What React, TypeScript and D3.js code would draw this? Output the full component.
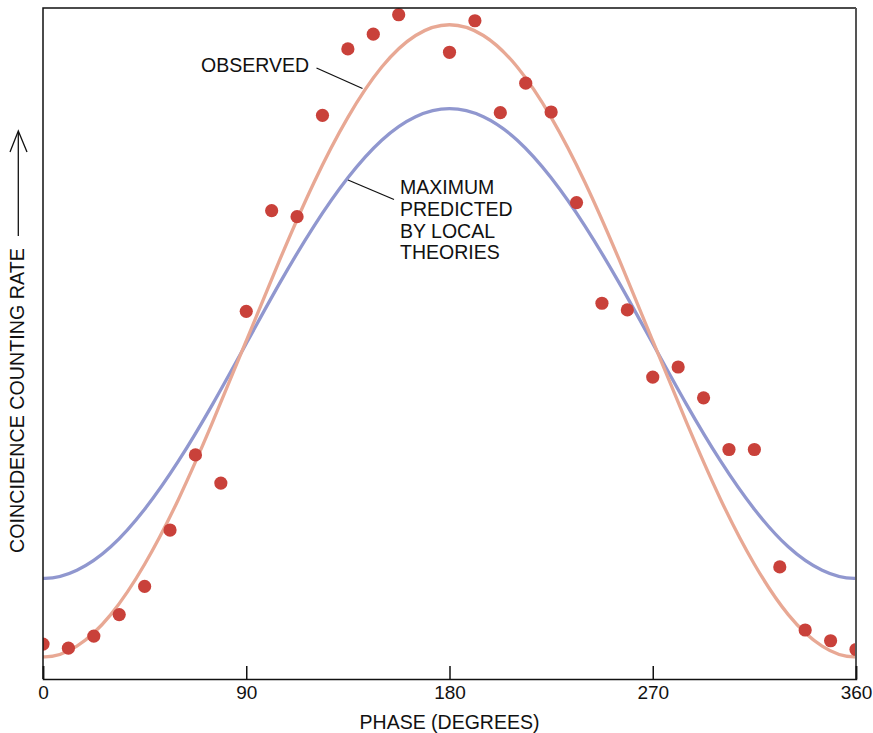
import React, { useEffect, useRef } from "react";
import * as d3 from "d3";

// smooth curves, sampled every 15 degrees (one step past each edge so the ends stay flat)
const curvePhases = [-15, 0, 15, 30, 45, 60, 75, 90, 105, 120, 135, 150, 165, 180, 195, 210, 225, 240, 255, 270, 285, 300, 315, 330, 345, 360, 375];
const observedCurve = [4.9, 3.3, 4.9, 9.6, 17.1, 26.8, 38.2, 50.4, 62.6, 74.0, 83.7, 91.2, 95.9, 97.5, 95.9, 91.2, 83.7, 74.0, 62.6, 50.4, 38.2, 26.8, 17.1, 9.6, 4.9, 3.3, 4.9];
const localCurve = [16.2, 15.0, 16.2, 19.7, 25.3, 32.5, 40.9, 50.0, 59.1, 67.5, 74.7, 80.3, 83.8, 85.0, 83.8, 80.3, 74.7, 67.5, 59.1, 50.0, 40.9, 32.5, 25.3, 19.7, 16.2, 15.0, 16.2];

// measured points
const dotPhases = [0, 11.25, 22.5, 33.75, 45, 56.25, 67.5, 78.75, 90, 101.25, 112.5, 123.75, 135, 146.25, 157.5, 180, 191.25, 202.5, 213.75, 225, 236.25, 247.5, 258.75, 270, 281.25, 292.5, 303.75, 315, 326.25, 337.5, 348.75, 360];
const dotRates = [5.2, 4.6, 6.4, 9.6, 13.8, 22.2, 33.4, 29.2, 54.8, 69.8, 68.9, 84.0, 93.9, 96.1, 99.0, 93.4, 98.1, 84.4, 88.8, 84.5, 71.0, 56.0, 55.0, 45.0, 46.5, 41.9, 34.2, 34.2, 16.7, 7.3, 5.7, 4.4];

const phaseTicks = [0, 90, 180, 270, 360];

const W = 873;
const H = 733;
const left = 43;
const right = 856;
const top = 8;
const bottom = 679;
const FONT = "'Liberation Sans', Arial, Helvetica, sans-serif";

export default function App() {
  const svgRef = useRef<SVGSVGElement>(null);

  useEffect(() => {
    const svg = d3.select(svgRef.current);
    svg.selectAll("*").remove();

    const x = d3.scaleLinear().domain([0, 360]).range([left, right]);
    const y = d3.scaleLinear().domain([0, 100]).range([bottom, top]);

    svg
      .append("defs")
      .append("clipPath")
      .attr("id", "plot-clip")
      .append("rect")
      .attr("x", left)
      .attr("y", top)
      .attr("width", right - left)
      .attr("height", bottom - top);

    const plot = svg.append("g").attr("clip-path", "url(#plot-clip)");

    const line = d3
      .line<number>()
      .x((d, i) => x(curvePhases[i]))
      .y((d) => y(d))
      .curve(d3.curveNatural);

    plot
      .append("path")
      .datum(localCurve)
      .attr("fill", "none")
      .attr("stroke", "#9097cf")
      .attr("stroke-width", 3.3)
      .attr("d", line);

    plot
      .append("path")
      .datum(observedCurve)
      .attr("fill", "none")
      .attr("stroke", "#e8a894")
      .attr("stroke-width", 3.3)
      .attr("d", line);

    plot
      .selectAll(".dot")
      .data(dotRates)
      .join("circle")
      .attr("class", "dot")
      .attr("cx", (d, i) => x(dotPhases[i]))
      .attr("cy", (d) => y(d))
      .attr("r", 6.6)
      .attr("fill", "#c9413a");

    // frame
    svg
      .append("path")
      .attr("d", `M${left},${bottom}V${top}H${right}`)
      .attr("fill", "none")
      .attr("stroke", "#111")
      .attr("stroke-width", 1.5);
    svg
      .append("line")
      .attr("x1", right)
      .attr("x2", right)
      .attr("y1", top)
      .attr("y2", bottom)
      .attr("stroke", "#555")
      .attr("stroke-width", 2);

    const axis = svg
      .append("g")
      .attr("transform", `translate(0,${bottom})`)
      .call(d3.axisBottom(x).tickValues(phaseTicks).tickSize(-13).tickPadding(7).tickFormat(d3.format("d")));
    axis.select(".domain").attr("stroke", "#111").attr("stroke-width", 1.5);
    axis.selectAll(".tick line").attr("stroke", "#111").attr("stroke-width", 1.5);
    axis
      .selectAll(".tick text")
      .attr("font-family", FONT)
      .attr("font-size", 19)
      .attr("fill", "#111");
    axis.attr("font-family", FONT);

    svg
      .append("text")
      .attr("x", (left + right) / 2)
      .attr("y", 729)
      .attr("text-anchor", "middle")
      .attr("font-family", FONT)
      .attr("font-size", 19.5)
      .attr("fill", "#111")
      .text("PHASE (DEGREES)");

    // y label with arrow
    svg
      .append("text")
      .attr("transform", "translate(24,553) rotate(-90)")
      .attr("font-family", FONT)
      .attr("font-size", 19.7)
      .attr("fill", "#111")
      .text("COINCIDENCE COUNTING RATE");
    svg
      .append("line")
      .attr("x1", 18.3)
      .attr("x2", 18.3)
      .attr("y1", 236)
      .attr("y2", 132)
      .attr("stroke", "#111")
      .attr("stroke-width", 1.3);
    svg
      .append("path")
      .attr("d", "M10,152L18.3,131L27,152")
      .attr("fill", "none")
      .attr("stroke", "#111")
      .attr("stroke-width", 1.3);

    // annotations
    svg
      .append("text")
      .attr("x", 201)
      .attr("y", 72)
      .attr("font-family", FONT)
      .attr("font-size", 19.5)
      .attr("fill", "#111")
      .text("OBSERVED");
    svg
      .append("line")
      .attr("x1", 316.5)
      .attr("y1", 68)
      .attr("x2", 362.5)
      .attr("y2", 88.5)
      .attr("stroke", "#111")
      .attr("stroke-width", 1.3);

    const note = ["MAXIMUM", "PREDICTED", "BY LOCAL", "THEORIES"];
    svg
      .append("g")
      .selectAll("text")
      .data(note)
      .join("text")
      .attr("x", 400)
      .attr("y", (d, i) => 194 + i * 21.8)
      .attr("font-family", FONT)
      .attr("font-size", 19.5)
      .attr("fill", "#111")
      .text((d) => d);
    svg
      .append("line")
      .attr("x1", 348)
      .attr("y1", 180)
      .attr("x2", 394)
      .attr("y2", 199.5)
      .attr("stroke", "#111")
      .attr("stroke-width", 1.3);
  }, []);

  return (
    <svg
      ref={svgRef}
      width={W}
      height={H}
      style={{ position: "absolute", left: 0, top: 0, background: "#fff" }}
    />
  );
}
